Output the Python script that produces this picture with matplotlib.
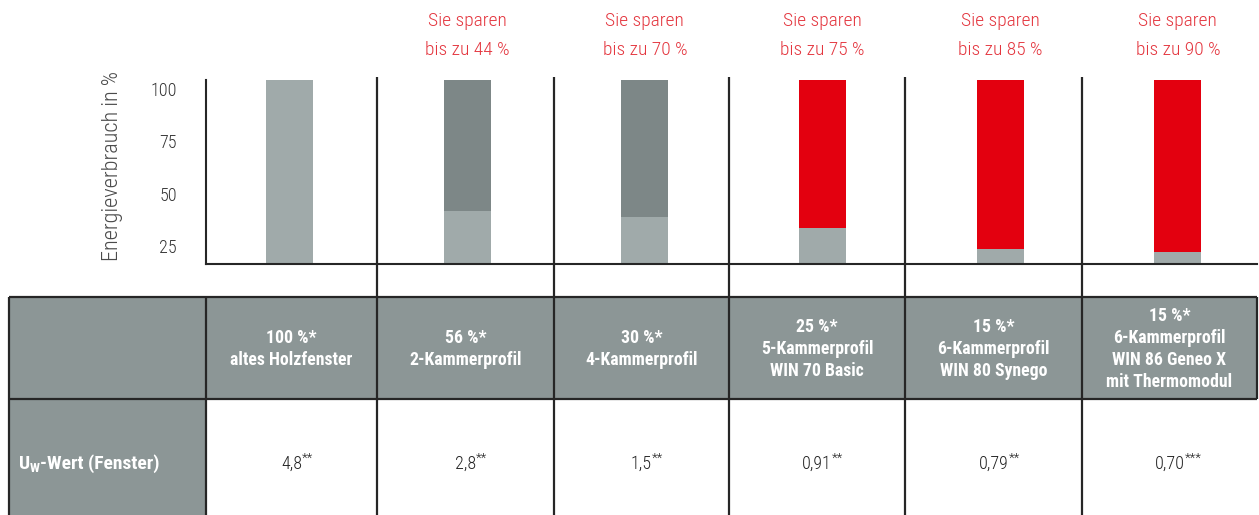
import matplotlib
matplotlib.use("Agg")
import matplotlib.pyplot as plt
from matplotlib import font_manager
from matplotlib.font_manager import FontProperties
from matplotlib.patches import Rectangle
from matplotlib.transforms import blended_transform_factory

# data
profiles = ["altes Holzfenster", "2-Kammerprofil", "4-Kammerprofil",
            "5-Kammerprofil\nWIN 70 Basic", "6-Kammerprofil\nWIN 80 Synego",
            "6-Kammerprofil\nWIN 86 Geneo X\nmit Thermomodul"]
consumption = [100, 56, 30, 25, 15, 15]
savings = [None, 44, 70, 75, 85, 90]
uw_values = ["4,8", "2,8", "1,5", "0,91", "0,79", "0,70"]
uw_notes = ["**", "**", "**", "**", "**", "***"]
# bar levels as drawn, measured on the printed axis
bar_top = [104.3, 104.3, 104.3, 104.3, 104.3, 104.3]
bar_light = [104.3, 41.7, 38.8, 33.6, 23.6, 22.1]
y_ticks = [25, 50, 75, 100]
y_base = 16.4

# colours
c_light = "#a0aaaa"
c_dark = "#7d8787"
c_red = "#e3000f"
c_table = "#8c9696"
c_line = "#262626"
c_redtxt = "#e4363f"
top_colors = [c_light, c_dark, c_dark, c_red, c_red, c_red]


# look for a condensed face, the original uses a narrow DIN-like font
def _w(f):
    try:
        return int(f.weight)
    except (TypeError, ValueError):
        return {"light": 300, "normal": 400, "regular": 400, "medium": 500,
                "bold": 700}.get(str(f.weight), 400)


pref = ["Roboto Condensed", "Open Sans Condensed", "Liberation Sans Narrow",
        "DejaVu Sans", "Noto Sans"]
cands = [f for f in font_manager.fontManager.ttflist
         if f.style == "normal" and ("condensed" in f.name.lower() or "narrow" in f.name.lower()
                                     or "condensed" in str(f.stretch) or "narrow" in str(f.stretch))]
HAVE_COND = len(cands) > 0
SC = 1.0 if HAVE_COND else 0.82


def face(weight):
    if not HAVE_COND:
        return FontProperties(family="DejaVu Sans", weight=weight)
    best = sorted(cands, key=lambda f: (min([i for i, p in enumerate(pref) if f.name.startswith(p)] or [9]),
                                        abs(_w(f) - weight)))[0]
    return FontProperties(fname=best.fname)


F_LIGHT = face(300)
F_BOLD = face(700)


def fp(base, size):
    p = base.copy()
    p.set_size(size * SC)
    return p


W, H = 1259, 515
col_edges = [206, 377, 554, 729, 905, 1082, 1257]
tab_left, tab_top, tab_split, tab_bot = 9, 297, 399, 515

fig = plt.figure(figsize=(W / 100, H / 100), dpi=100)
bg = fig.add_axes([0, 0, 1, 1])
bg.set_xlim(0, W)
bg.set_ylim(H, 0)
bg.axis("off")

ax = fig.add_axes([206 / W, (H - 264) / H, (1257 - 206) / W, (264 - 80) / H])
ax.patch.set_alpha(0)
x = list(range(len(consumption)))
ax.bar(x, [t - y_base for t in bar_top], 0.264, bottom=y_base, color=top_colors)
ax.bar(x, [b - y_base for b in bar_light], 0.264, bottom=y_base, color=c_light)
ax.set_xlim(-0.47, 5.445)
ax.set_ylim(y_base, 104.3)
ax.set_xticks([])
ax.set_yticks(y_ticks)
ax.tick_params(axis="y", length=0, pad=21, labelcolor="#333333")
for lbl in ax.get_yticklabels():
    lbl.set_fontproperties(fp(F_LIGHT, 13))
for s in ["top", "right"]:
    ax.spines[s].set_visible(False)
for s in ["left", "bottom"]:
    ax.spines[s].set_linewidth(1.5)
    ax.spines[s].set_color(c_line)

bg.text(113, 166, "Energieverbrauch in %", rotation=90, ha="center", va="center",
        fontproperties=fp(F_LIGHT, 16), color="#4a4a4a")

# savings above the bars
tr = blended_transform_factory(ax.transData, bg.transData)
for i, s in enumerate(savings):
    if s is None:
        continue
    ax.text(i, 21, "Sie sparen", transform=tr, ha="center", va="center",
            fontproperties=fp(F_LIGHT, 14), color=c_redtxt)
    ax.text(i, 50, f"bis zu {s} %", transform=tr, ha="center", va="center",
            fontproperties=fp(F_LIGHT, 14), color=c_redtxt)

# table
bg.add_patch(Rectangle((tab_left, tab_top), col_edges[-1] - tab_left, tab_split - tab_top,
                       color=c_table, lw=0))
bg.add_patch(Rectangle((tab_left, tab_split), col_edges[0] - tab_left, tab_bot - tab_split,
                       color=c_table, lw=0))
bg.hlines([tab_top, tab_split], tab_left, col_edges[-1], color=c_line, lw=1.6)
bg.vlines([tab_left, col_edges[0]], tab_top, tab_bot, color=c_line, lw=1.6)
bg.vlines(col_edges[-1], tab_top, tab_split, color=c_line, lw=1.6)
bg.vlines(col_edges[1:-1], 77, tab_bot, color=c_line, lw=1.6)

centers = [(a + b) / 2 for a, b in zip(col_edges[:-1], col_edges[1:])]
for cx, pct, name in zip(centers, consumption, profiles):
    bg.text(cx, 349, f"{pct} %*\n{name}", ha="center", va="center",
            fontproperties=fp(F_BOLD, 12.8), color="white", linespacing=1.3)

renderer = fig.canvas.get_renderer()


def put_run(x0, y0, pieces, align="left", **kw):
    # pieces: (text, face, fontsize, baseline shift in px)
    texts = []
    for s, base, size, dy in pieces:
        t = bg.text(0, y0 + dy, s, fontproperties=fp(base, size), va="baseline", ha="left", **kw)
        texts.append(t)
    widths = [t.get_window_extent(renderer).width for t in texts]
    pos = x0 - (widths[0] / 2 if align == "center" else 0)
    for t, w in zip(texts, widths):
        t.set_x(pos)
        pos += w


for cx, val, note in zip(centers, uw_values, uw_notes):
    put_run(cx, 469, [(val, F_LIGHT, 13, 0), (note, F_LIGHT, 9.5, -7)],
            align="center", color="#222222")

put_run(19, 469, [("U", F_BOLD, 14, 0), ("W", F_BOLD, 9.5, 3),
                  ("-Wert (Fenster)", F_BOLD, 14, 0)], color="white")

fig.savefig("out.png", dpi=100)
